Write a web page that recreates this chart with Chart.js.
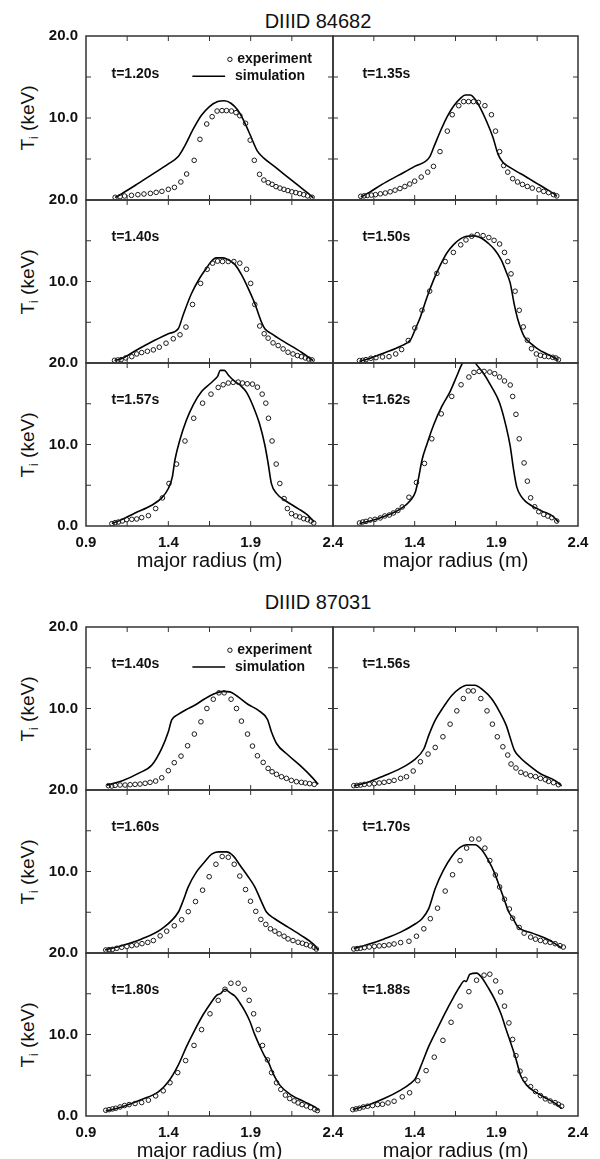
<!DOCTYPE html>
<html>
<head>
<meta charset="utf-8">
<script src="https://cdn.jsdelivr.net/npm/chart.js@4.4.1/dist/chart.umd.min.js"></script>
<style>
  body { margin: 0; background: #fff; }
  #page { position: relative; width: 600px; height: 1159px; overflow: hidden;
          font-family: "Liberation Sans", Arial, sans-serif; color: #111; }
  #page canvas { position: absolute; }
  .ftitle { position: absolute; font-size: 20px; transform: translate(-50%, -50%); white-space: nowrap; }
  .ylab { position: absolute; font-size: 19px; transform: translate(-50%, -50%) rotate(-90deg); white-space: nowrap; }
  .ylab sub { font-size: 12px; }
</style>
</head>
<body>
<div id="page"></div>
<script>
const FONT = '"Liberation Sans", Arial, sans-serif';

const shots = ['DIIID 84682', 'DIIID 87031'];
const times84682 = ['t=1.20s', 't=1.35s', 't=1.40s', 't=1.50s', 't=1.57s', 't=1.62s'];
const times87031 = ['t=1.40s', 't=1.56s', 't=1.60s', 't=1.70s', 't=1.80s', 't=1.88s'];

const xTickValues = [0.9, 1.15, 1.4, 1.65, 1.9, 2.15, 2.4];
const xTickLabels = ['0.9', '', '1.4', '', '1.9', '', '2.4'];
const yTickValues = [0, 5, 10, 15, 20];
const yTickLabels = ['0.0', '', '10.0', '', '20.0'];

// [major radius (m), Ti (keV)]
const exp84682_120 = [[1.077,0.33],[1.107,0.41],[1.134,0.49],[1.176,0.57],[1.215,0.65],[1.252,0.73],[1.291,0.81],[1.326,0.93],[1.361,1.06],[1.400,1.3],[1.437,1.54],[1.476,2.2],[1.511,3.17],[1.557,4.84],[1.592,7.4],[1.633,9.27],[1.666,10.16],[1.696,10.85],[1.726,10.9],[1.753,10.9],[1.783,10.85],[1.811,10.65],[1.834,10.28],[1.869,9.35],[1.897,7.3],[1.922,4.84],[1.954,3.13],[1.980,2.44],[2.007,2.11],[2.030,1.91],[2.054,1.63],[2.078,1.45],[2.102,1.3],[2.126,1.15],[2.150,1.0],[2.174,0.9],[2.198,0.78],[2.222,0.65],[2.246,0.5],[2.273,0.33]];
const sim84682_120 = [[1.077,0.3],[1.12,0.8],[1.20,1.8],[1.30,3.1],[1.40,4.4],[1.46,5.3],[1.50,6.6],[1.55,8.6],[1.60,10.3],[1.65,11.4],[1.70,12.0],[1.74,12.1],[1.78,11.8],[1.82,11.0],[1.86,9.6],[1.90,7.8],[1.94,6.0],[1.98,5.1],[2.05,4.0],[2.10,3.2],[2.15,2.4],[2.20,1.6],[2.25,0.8],[2.28,0.25]];

const exp84682_135 = [[1.07,0.45],[1.09,0.5],[1.11,0.55],[1.135,0.6],[1.16,0.65],[1.19,0.75],[1.22,0.85],[1.25,1.0],[1.28,1.2],[1.31,1.4],[1.34,1.65],[1.37,1.95],[1.40,2.3],[1.44,2.8],[1.48,3.4],[1.515,4.1],[1.555,5.9],[1.60,8.4],[1.63,10.4],[1.67,11.5],[1.70,12.0],[1.73,12.0],[1.76,12.0],[1.79,11.9],[1.83,11.5],[1.87,10.4],[1.895,8.4],[1.92,5.9],[1.945,4.2],[1.97,3.4],[2.00,2.6],[2.03,2.2],[2.06,1.9],[2.09,1.65],[2.12,1.45],[2.16,1.25],[2.19,1.05],[2.22,0.9],[2.25,0.65],[2.27,0.5]];
const sim84682_135 = [[1.07,0.35],[1.12,0.9],[1.20,1.9],[1.30,3.0],[1.40,4.1],[1.49,5.2],[1.52,6.6],[1.56,8.5],[1.60,10.2],[1.64,11.5],[1.68,12.4],[1.71,12.8],[1.74,12.8],[1.77,12.3],[1.80,11.3],[1.84,9.6],[1.88,7.6],[1.91,5.6],[1.94,4.6],[1.98,4.0],[2.05,3.2],[2.10,2.6],[2.15,2.0],[2.20,1.4],[2.25,0.8],[2.27,0.45]];

const exp84682_140 = [[1.073,0.33],[1.093,0.37],[1.113,0.41],[1.141,0.62],[1.178,0.78],[1.208,1.11],[1.238,1.28],[1.273,1.44],[1.309,1.61],[1.345,1.94],[1.386,2.43],[1.43,2.97],[1.471,3.46],[1.507,4.41],[1.547,7.18],[1.596,9.77],[1.636,11.5],[1.669,12.25],[1.699,12.5],[1.729,12.45],[1.764,12.45],[1.798,12.45],[1.834,12.25],[1.875,11.5],[1.90,9.77],[1.925,7.18],[1.955,4.54],[1.982,3.59],[2.006,3.05],[2.036,2.47],[2.067,2.14],[2.097,1.73],[2.127,1.32],[2.157,1.11],[2.184,0.91],[2.208,0.78],[2.232,0.62],[2.252,0.49],[2.273,0.37]];
const sim84682_140 = [[1.073,0.3],[1.117,0.54],[1.20,1.5],[1.30,2.6],[1.40,3.6],[1.46,4.2],[1.49,5.9],[1.54,8.5],[1.59,10.4],[1.63,11.6],[1.66,12.45],[1.69,12.9],[1.733,12.9],[1.764,12.66],[1.804,12.1],[1.845,10.8],[1.885,9.15],[1.925,7.3],[1.966,5.0],[1.986,4.2],[2.026,3.6],[2.107,2.56],[2.208,1.32],[2.279,0.3]];

const exp84682_150 = [[1.062,0.29],[1.082,0.33],[1.102,0.41],[1.132,0.58],[1.163,0.66],[1.203,0.74],[1.243,0.78],[1.284,1.11],[1.32,1.65],[1.361,2.76],[1.401,4.29],[1.445,6.47],[1.492,8.82],[1.536,11.0],[1.587,12.45],[1.637,13.57],[1.682,14.5],[1.714,15.1],[1.749,15.55],[1.783,15.75],[1.819,15.63],[1.854,15.4],[1.886,15.05],[1.92,14.6],[1.95,13.57],[1.97,12.45],[1.99,10.94],[2.015,8.81],[2.04,6.47],[2.065,4.43],[2.09,2.79],[2.115,1.76],[2.145,1.11],[2.17,0.94],[2.195,0.82],[2.22,0.78],[2.245,0.7],[2.265,0.61],[2.28,0.4]];
const sim84682_150 = [[1.062,0.2],[1.112,0.5],[1.213,1.24],[1.314,2.06],[1.375,2.85],[1.405,4.2],[1.435,5.65],[1.476,8.1],[1.516,10.2],[1.557,12.0],[1.597,13.5],[1.637,14.5],[1.678,15.2],[1.718,15.55],[1.769,15.6],[1.81,15.3],[1.85,14.7],[1.89,13.9],[1.93,12.66],[1.96,11.2],[1.985,9.8],[2.01,7.17],[2.035,5.12],[2.07,3.28],[2.12,2.25],[2.16,1.64],[2.21,1.11],[2.26,0.61],[2.28,0.33]];

const exp84682_157 = [[1.057,0.29],[1.077,0.41],[1.097,0.49],[1.121,0.62],[1.147,0.78],[1.178,0.82],[1.208,0.86],[1.238,1.03],[1.279,1.27],[1.323,2.14],[1.364,3.45],[1.404,5.22],[1.45,7.6],[1.501,10.43],[1.554,13.22],[1.608,15.07],[1.659,16.18],[1.703,17.0],[1.733,17.33],[1.764,17.54],[1.794,17.62],[1.824,17.66],[1.85,17.54],[1.879,17.45],[1.911,17.41],[1.941,17.04],[1.97,16.18],[1.992,15.07],[2.008,13.22],[2.03,10.43],[2.055,7.6],[2.077,5.22],[2.103,3.37],[2.123,2.14],[2.148,1.52],[2.174,1.23],[2.198,1.11],[2.222,0.9],[2.245,0.78],[2.265,0.62],[2.283,0.37]];
const sim84682_157 = [[1.057,0.3],[1.117,0.78],[1.198,1.6],[1.299,2.55],[1.36,3.45],[1.40,4.6],[1.424,6.0],[1.44,8.1],[1.47,10.55],[1.51,13.0],[1.552,14.9],[1.602,16.5],[1.653,17.45],[1.683,18.0],[1.70,18.4],[1.715,19.1],[1.74,19.1],[1.765,18.5],[1.80,17.8],[1.835,17.3],[1.875,16.4],[1.915,14.7],[1.956,12.4],[1.986,9.94],[2.006,7.7],[2.026,5.2],[2.057,4.0],[2.107,3.16],[2.188,2.14],[2.248,1.31],[2.285,0.5]];

const exp84682_162 = [[1.062,0.37],[1.082,0.49],[1.102,0.57],[1.128,0.74],[1.157,0.82],[1.189,0.99],[1.217,1.23],[1.245,1.35],[1.27,1.6],[1.297,1.9],[1.324,2.34],[1.365,3.53],[1.411,5.34],[1.46,7.68],[1.505,10.7],[1.563,13.76],[1.627,15.9],[1.684,17.33],[1.732,18.28],[1.763,18.85],[1.795,18.97],[1.825,18.97],[1.86,18.89],[1.89,18.69],[1.92,18.28],[1.95,17.8],[1.985,17.3],[2.0,15.9],[2.02,13.7],[2.04,10.7],[2.07,7.74],[2.09,5.5],[2.11,3.46],[2.135,2.36],[2.16,1.75],[2.19,1.43],[2.215,1.22],[2.24,1.02],[2.27,0.61]];
const sim84682_162 = [[1.062,0.3],[1.173,0.9],[1.314,2.1],[1.375,3.16],[1.405,4.2],[1.425,6.0],[1.445,8.1],[1.476,10.1],[1.516,12.4],[1.567,14.7],[1.617,16.5],[1.658,18.4],[1.688,19.8],[1.715,20.5],[1.755,20.5],[1.779,19.8],[1.819,18.8],[1.87,17.1],[1.92,15.1],[1.96,12.2],[1.985,9.8],[2.005,7.0],[2.025,4.8],[2.05,3.7],[2.08,3.0],[2.18,1.83],[2.245,1.22],[2.28,0.5]];

const exp87031_140 = [[1.036,0.53],[1.056,0.49],[1.077,0.57],[1.107,0.61],[1.137,0.61],[1.168,0.65],[1.198,0.69],[1.228,0.73],[1.259,0.82],[1.289,0.94],[1.323,1.1],[1.36,1.5],[1.40,2.37],[1.436,3.35],[1.477,4.16],[1.517,5.43],[1.558,6.86],[1.598,8.37],[1.634,10.0],[1.673,11.14],[1.707,11.92],[1.739,11.92],[1.781,11.14],[1.814,10.0],[1.844,8.45],[1.881,6.86],[1.911,5.39],[1.941,4.2],[1.976,3.39],[2.006,2.65],[2.03,2.24],[2.057,1.92],[2.087,1.63],[2.117,1.43],[2.147,1.18],[2.178,1.02],[2.208,0.94],[2.232,0.86],[2.258,0.78],[2.286,0.69]];
const sim87031_140 = [[1.026,0.6],[1.117,1.1],[1.218,2.04],[1.30,3.06],[1.36,5.1],[1.40,7.14],[1.42,8.57],[1.46,9.27],[1.51,9.88],[1.56,10.4],[1.622,11.2],[1.683,11.84],[1.733,12.1],[1.774,12.04],[1.824,11.43],[1.885,10.49],[1.945,9.8],[2.002,8.65],[2.026,7.14],[2.057,5.71],[2.127,4.29],[2.208,2.86],[2.279,1.43],[2.31,0.69]];

const exp87031_156 = [[1.027,0.53],[1.047,0.57],[1.068,0.61],[1.092,0.69],[1.122,0.73],[1.153,0.78],[1.183,0.86],[1.213,0.94],[1.243,1.06],[1.274,1.18],[1.314,1.43],[1.35,1.63],[1.391,2.33],[1.435,3.47],[1.482,4.41],[1.526,5.22],[1.573,6.53],[1.617,8.08],[1.658,9.71],[1.698,11.22],[1.728,12.16],[1.759,12.16],[1.805,11.22],[1.843,9.71],[1.876,8.08],[1.906,6.53],[1.94,5.3],[1.97,4.29],[1.99,3.19],[2.02,2.7],[2.05,2.17],[2.08,1.96],[2.11,1.76],[2.14,1.64],[2.17,1.43],[2.2,1.27],[2.22,1.06],[2.25,0.9],[2.28,0.65]];
const sim87031_156 = [[1.027,0.5],[1.112,0.94],[1.213,1.76],[1.314,2.65],[1.395,3.67],[1.455,5.0],[1.486,6.7],[1.526,8.57],[1.577,10.2],[1.627,11.6],[1.678,12.5],[1.718,12.86],[1.769,12.86],[1.819,12.24],[1.87,11.22],[1.92,9.6],[1.96,7.96],[1.985,6.4],[2.01,4.9],[2.05,3.9],[2.09,3.2],[2.17,2.0],[2.26,1.15],[2.30,0.5]];

const exp87031_160 = [[1.02,0.37],[1.04,0.41],[1.061,0.45],[1.087,0.58],[1.117,0.7],[1.148,0.8],[1.178,0.9],[1.208,1.0],[1.24,1.15],[1.275,1.3],[1.309,1.53],[1.35,2.1],[1.39,2.68],[1.436,3.34],[1.481,4.08],[1.521,5.07],[1.565,6.31],[1.608,7.71],[1.648,9.36],[1.689,10.89],[1.727,11.84],[1.764,11.75],[1.80,10.89],[1.834,9.44],[1.869,7.79],[1.899,6.35],[1.931,5.11],[1.962,4.12],[1.992,3.51],[2.02,2.97],[2.047,2.68],[2.073,2.35],[2.103,2.06],[2.127,1.73],[2.157,1.53],[2.188,1.32],[2.214,1.2],[2.238,1.03],[2.262,0.87],[2.285,0.7],[2.299,0.49]];
const sim87031_160 = [[1.016,0.37],[1.117,0.9],[1.238,1.73],[1.36,2.97],[1.461,5.03],[1.491,6.47],[1.521,8.12],[1.572,9.98],[1.622,11.22],[1.663,12.12],[1.703,12.41],[1.754,12.41],[1.794,11.92],[1.834,10.8],[1.885,9.36],[1.925,8.12],[1.966,6.27],[1.996,5.03],[2.046,4.2],[2.127,3.18],[2.208,2.14],[2.279,1.11],[2.31,0.37]];

const exp87031_170 = [[1.027,0.49],[1.047,0.54],[1.068,0.58],[1.092,0.66],[1.122,0.74],[1.153,0.82],[1.183,0.87],[1.213,0.91],[1.243,1.0],[1.274,1.11],[1.314,1.28],[1.365,1.44],[1.411,2.06],[1.456,2.97],[1.496,4.21],[1.54,5.5],[1.587,7.6],[1.632,9.6],[1.678,11.34],[1.718,12.87],[1.749,13.98],[1.793,13.98],[1.83,12.87],[1.86,11.34],[1.894,9.57],[1.92,8.1],[1.95,6.6],[1.98,5.4],[2.0,4.27],[2.04,3.13],[2.07,2.44],[2.11,1.95],[2.14,1.7],[2.17,1.54],[2.2,1.38],[2.23,1.3],[2.26,1.14],[2.29,0.9],[2.31,0.73]];
const sim87031_170 = [[1.027,0.54],[1.112,1.03],[1.213,1.73],[1.314,2.56],[1.405,3.59],[1.445,4.2],[1.486,5.44],[1.526,7.92],[1.577,10.19],[1.627,11.84],[1.678,12.95],[1.718,13.28],[1.769,13.28],[1.81,12.66],[1.85,11.42],[1.89,9.77],[1.92,8.12],[1.95,6.47],[1.977,5.0],[2.0,4.3],[2.03,3.25],[2.12,2.44],[2.22,1.63],[2.30,0.6]];

const exp87031_180 = [[1.02,0.7],[1.04,0.78],[1.061,0.87],[1.081,0.95],[1.107,1.11],[1.134,1.28],[1.162,1.4],[1.198,1.53],[1.238,1.65],[1.279,1.94],[1.323,2.47],[1.369,3.09],[1.41,4.08],[1.457,5.32],[1.505,6.8],[1.556,8.66],[1.602,10.6],[1.653,12.54],[1.703,14.19],[1.744,15.55],[1.78,16.29],[1.824,16.29],[1.861,15.55],[1.891,14.19],[1.918,12.54],[1.946,10.6],[1.972,8.66],[2.002,6.89],[2.027,5.32],[2.057,4.08],[2.083,3.26],[2.111,2.56],[2.137,2.14],[2.164,1.86],[2.188,1.61],[2.212,1.4],[2.238,1.24],[2.264,1.03],[2.289,0.82],[2.305,0.66]];
const sim87031_180 = [[1.02,0.62],[1.117,1.11],[1.238,2.02],[1.339,2.97],[1.40,4.2],[1.461,6.27],[1.511,8.54],[1.562,10.6],[1.612,12.45],[1.659,13.9],[1.693,14.8],[1.719,15.05],[1.744,15.55],[1.774,15.13],[1.804,14.72],[1.834,13.9],[1.865,12.87],[1.895,11.63],[1.925,9.98],[1.956,8.54],[1.986,7.3],[2.006,6.68],[2.036,5.24],[2.077,3.79],[2.147,2.56],[2.228,1.73],[2.289,1.11],[2.313,0.7]];

const exp87031_188 = [[1.021,0.78],[1.041,0.87],[1.062,0.95],[1.086,1.11],[1.112,1.2],[1.142,1.28],[1.173,1.4],[1.203,1.44],[1.237,1.61],[1.274,1.81],[1.324,2.35],[1.369,2.85],[1.419,4.33],[1.47,5.57],[1.52,7.22],[1.573,9.28],[1.623,11.5],[1.678,13.48],[1.732,15.26],[1.779,16.66],[1.825,17.28],[1.86,17.4],[1.896,16.58],[1.926,15.22],[1.95,13.48],[1.977,11.42],[2.0,9.4],[2.02,7.4],[2.045,5.5],[2.075,4.5],[2.11,3.6],[2.14,3.0],[2.17,2.5],[2.2,2.1],[2.23,1.84],[2.26,1.64],[2.28,1.43],[2.3,1.2]];
const sim87031_188 = [[1.021,0.78],[1.112,1.32],[1.213,2.14],[1.314,3.18],[1.375,4.0],[1.405,4.62],[1.445,6.47],[1.486,8.54],[1.536,10.6],[1.587,12.66],[1.637,14.52],[1.678,15.96],[1.705,16.6],[1.715,16.5],[1.738,17.4],[1.779,17.53],[1.81,17.0],[1.85,15.75],[1.89,14.31],[1.93,12.45],[1.96,10.6],[1.985,9.15],[2.02,7.0],[2.05,4.9],[2.09,3.7],[2.18,2.46],[2.27,1.43],[2.30,0.9]];

// legend position in data units of the top-left panel
const legendExpMarker = [1.774, 17.15];
const legendExpText = [1.818, 17.15];
const legendSimLine = [1.546, 1.745, 15.1];
const legendSimText = [1.805, 15.1];

const panels = [
  [exp84682_120, sim84682_120], [exp84682_135, sim84682_135],
  [exp84682_140, sim84682_140], [exp84682_150, sim84682_150],
  [exp84682_157, sim84682_157], [exp84682_162, sim84682_162],
  [exp87031_140, sim87031_140], [exp87031_156, sim87031_156],
  [exp87031_160, sim87031_160], [exp87031_170, sim87031_170],
  [exp87031_180, sim87031_180], [exp87031_188, sim87031_188]
];
const times = [times84682, times87031];

// page layout (px)
const rowEdges = [[36, 200, 363, 526], [627, 790, 953, 1116]];
const titleY = [21, 602];

const page = document.getElementById('page');

shots.forEach((s, f) => {
  const d = document.createElement('div');
  d.className = 'ftitle';
  d.style.left = '318px';
  d.style.top = titleY[f] + 'px';
  d.textContent = s;
  page.appendChild(d);
  for (let r = 0; r < 3; r++) {
    const l = document.createElement('div');
    l.className = 'ylab';
    l.style.left = '29px';
    l.style.top = ((rowEdges[f][r] + rowEdges[f][r + 1]) / 2) + 'px';
    l.innerHTML = 'T<sub>i</sub> (keV)';
    page.appendChild(l);
  }
});

function strokeLine(ctx, x1, y1, x2, y2) {
  ctx.beginPath(); ctx.moveTo(x1, y1); ctx.lineTo(x2, y2); ctx.stroke();
}

function makePanel(f, r, c) {
  const [exp, sim] = panels[f * 6 + r * 2 + c];
  const label = times[f][r * 2 + c];
  const top = rowEdges[f][r], bottom = rowEdges[f][r + 1];
  const isBottom = r === 2, isLeft = c === 0, hasLegend = r === 0 && c === 0;
  const padTop = 22, below = isBottom ? 50 : 22;

  const canvas = document.createElement('canvas');
  canvas.width = isLeft ? 370 : 282;
  canvas.height = bottom - top + padTop + below;
  canvas.style.left = (isLeft ? 0 : 318) + 'px';
  canvas.style.top = (top - padTop) + 'px';
  page.appendChild(canvas);

  const decor = {
    id: 'decor',
    afterDraw(chart) {
      const {ctx, chartArea: a, scales: {x, y}} = chart;
      ctx.save();
      ctx.strokeStyle = '#333';
      ctx.lineWidth = 1;
      xTickValues.slice(1, -1).forEach(v => {
        const px = x.getPixelForValue(v);
        strokeLine(ctx, px, a.top, px, a.top + 5);
        strokeLine(ctx, px, a.bottom, px, a.bottom - 5);
      });
      yTickValues.slice(1, -1).forEach(v => {
        const py = y.getPixelForValue(v);
        strokeLine(ctx, a.left, py, a.left + 5, py);
        strokeLine(ctx, a.right, py, a.right - 5, py);
      });
      ctx.lineWidth = 1.5;
      ctx.strokeRect(a.left, a.top, a.right - a.left, a.bottom - a.top);

      ctx.fillStyle = '#111';
      ctx.font = 'bold 14px ' + FONT;
      ctx.textBaseline = 'middle';
      ctx.textAlign = 'left';
      ctx.fillText(label, x.getPixelForValue(isLeft ? 1.055 : 1.08), y.getPixelForValue(15.4));

      if (hasLegend) {
        const my = y.getPixelForValue(legendExpMarker[1]);
        ctx.lineWidth = 1;
        ctx.strokeStyle = '#111';
        ctx.beginPath();
        ctx.arc(x.getPixelForValue(legendExpMarker[0]), my, 2.2, 0, 2 * Math.PI);
        ctx.stroke();
        ctx.fillText('experiment', x.getPixelForValue(legendExpText[0]), y.getPixelForValue(legendExpText[1]));
        const ly = y.getPixelForValue(legendSimLine[2]);
        ctx.lineWidth = 1.6;
        ctx.strokeStyle = '#000';
        strokeLine(ctx, x.getPixelForValue(legendSimLine[0]), ly, x.getPixelForValue(legendSimLine[1]), ly);
        ctx.fillText('simulation', x.getPixelForValue(legendSimText[0]), y.getPixelForValue(legendSimText[1]));
      }
      ctx.restore();
    }
  };

  new Chart(canvas, {
    type: 'line',
    data: {
      datasets: [
        {
          label: 'simulation',
          data: sim.map(([x, y]) => ({x, y})),
          borderColor: '#000',
          borderWidth: 1.6,
          pointRadius: 0,
          cubicInterpolationMode: 'monotone',
          order: 2
        },
        {
          label: 'experiment',
          data: exp.map(([x, y]) => ({x, y})),
          showLine: false,
          pointRadius: 2.3,
          pointBorderWidth: 1,
          borderColor: '#1a1a1a',
          backgroundColor: 'rgba(0,0,0,0)',
          order: 1
        }
      ]
    },
    options: {
      responsive: false,
      animation: false,
      devicePixelRatio: 1,
      layout: {padding: {top: padTop, bottom: isBottom ? 0 : below, left: isLeft ? 0 : 15, right: isLeft ? 37 : 22}},
      plugins: {legend: {display: false}, tooltip: {enabled: false}},
      scales: {
        x: {
          type: 'linear',
          min: 0.9,
          max: 2.4,
          grid: {display: false, drawTicks: false},
          border: {display: false},
          afterBuildTicks: s => { s.ticks = xTickValues.map(v => ({value: v})); },
          ticks: {
            display: isBottom,
            autoSkip: false,
            maxRotation: 0,
            padding: 8,
            color: '#111',
            font: {family: FONT, size: 15, weight: 'bold'},
            callback: (v, i) => (!isLeft && i === 0) ? '' : xTickLabels[i]
          },
          title: {
            display: isBottom,
            text: 'major radius (m)',
            color: '#111',
            font: {family: FONT, size: 20},
            padding: {top: 0, bottom: 3}
          },
          afterFit: s => { s.height = isBottom ? 50 : 0; }
        },
        y: {
          type: 'linear',
          min: 0,
          max: 20,
          display: isLeft,
          grid: {display: false, drawTicks: false},
          border: {display: false},
          afterBuildTicks: s => { s.ticks = yTickValues.map(v => ({value: v})); },
          ticks: {
            autoSkip: false,
            padding: 8,
            color: '#111',
            font: {family: FONT, size: 15, weight: 'bold'},
            callback: (v, i) => (i === 0 && !isBottom) ? '' : yTickLabels[i]
          },
          afterFit: s => { s.width = isLeft ? 86 : 0; }
        }
      }
    },
    plugins: [decor]
  });
}

for (let f = 0; f < 2; f++)
  for (let r = 0; r < 3; r++)
    for (let c = 0; c < 2; c++) makePanel(f, r, c);
</script>
</body>
</html>
